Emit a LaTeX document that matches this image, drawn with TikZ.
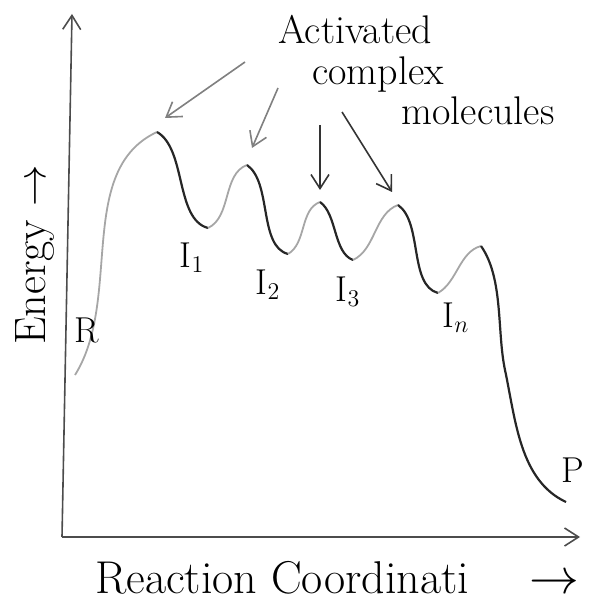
\documentclass[tikz,border=0pt]{standalone}
\usepackage{amsmath}
\usepackage{tikz}
\usetikzlibrary{arrows.meta, positioning}

\begin{document}
\begin{tikzpicture}[
    x=0.5pt, y=0.5pt,
    >={Straight Barb[length=7pt, width=9pt]},
    axis/.style={thick, black!70},
    down/.style={line width=1.1pt, black!85},
    up/.style={line width=0.9pt, black!35},
    lbl/.style={font=\fontsize{18}{20}\selectfont, inner sep=1pt},
    hand/.style={font=\fontsize{20}{24}\selectfont, inner sep=0pt},
    big/.style={font=\fontsize{23}{27}\selectfont, inner sep=0pt}
]
    \useasboundingbox (0,0) rectangle (597,-604);

    % Achsen
    \coordinate (O) at (62,-537);
    \coordinate (ytop) at (72,-14);
    \coordinate (xend) at (580,-537);
    \draw[axis, ->] (O) -- (ytop);
    \draw[axis, ->] (O) -- (xend);

    % Energieprofil
    \coordinate (R)  at (75,-375);
    \coordinate (t1) at (157,-132);
    \coordinate (i1) at (208,-228);
    \coordinate (t2) at (247,-165);
    \coordinate (i2) at (288,-254);
    \coordinate (t3) at (320,-202);
    \coordinate (i3) at (353,-260);
    \coordinate (t4) at (398,-205);
    \coordinate (in) at (438,-293);
    \coordinate (t5) at (481,-246);
    \coordinate (P)  at (566,-502);

    \draw[up]   (R)  to[out=58, in=205, looseness=0.9] (t1);
    \draw[down] (t1) to[out=-30, in=165, looseness=0.8] (i1);
    \draw[up]   (i1) to[out=25, in=200, looseness=0.9] (t2);
    \draw[down] (t2) to[out=-35, in=165, looseness=0.8] (i2);
    \draw[up]   (i2) to[out=30, in=200, looseness=0.9] (t3);
    \draw[down] (t3) to[out=-35, in=160, looseness=0.8] (i3);
    \draw[up]   (i3) to[out=25, in=200, looseness=0.9] (t4);
    \draw[down] (t4) to[out=-35, in=165, looseness=0.8] (in);
    \draw[up]   (in) to[out=30, in=195, looseness=0.9] (t5);
    \draw[down] (t5) to[out=-55, in=102, looseness=0.8] (505,-370)
                     to[out=-78, in=155, looseness=0.9] (P);

    % Beschriftung
    \node[lbl] (lR)  at (87,-330) {R};
    \node[lbl] (lI1) at (192,-258) {I$_1$};
    \node[lbl] (lI2) at (268,-285) {I$_2$};
    \node[lbl] (lI3) at (348,-292) {I$_3$};
    \node[lbl] (lIn) at (456,-318) {I$_n$};
    \node[lbl] (lP)  at (573,-470) {P};

    \node[hand] (act) at (355,-30) {Activated};
    \node[hand] (cpx) at (378,-75) {complex};
    \node[hand] (mol) at (478,-111) {molecules};

    \coordinate (a1) at (245,-62);
    \coordinate (a2) at (278,-88);
    \coordinate (a3) at (320,-125);
    \coordinate (a4) at (342,-112);
    \coordinate (p1) at (165,-118);
    \coordinate (p2) at (252,-148);
    \coordinate (p3) at (320,-190);
    \coordinate (p4) at (392,-192);
    \draw[->, black!50, thick] (a1) -- (p1);
    \draw[->, black!50, thick] (a2) -- (p2);
    \draw[->, black!80, thick] (a3) -- (p3);
    \draw[->, black!80, thick] (a4) -- (p4);

    \node[big, rotate=90, font=\fontsize{22}{26}\selectfont] (ylab) at (35,-255) {Energy $\rightarrow$};
    \node[big] (xlab) at (337,-578) {Reaction Coordinati\hspace{30pt}$\rightarrow$};
\end{tikzpicture}
\end{document}
